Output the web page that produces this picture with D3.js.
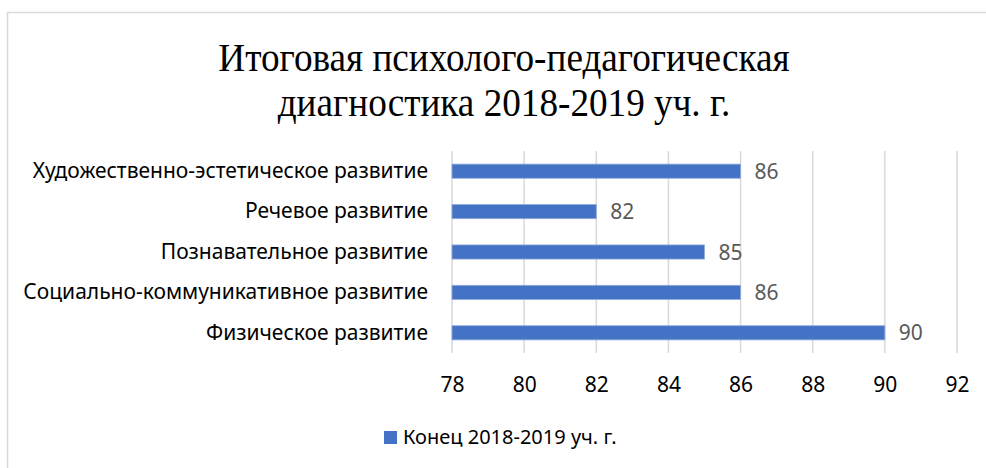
<!DOCTYPE html>
<html>
<head>
<meta charset="utf-8">
<script src="https://cdn.jsdelivr.net/npm/d3@7"></script>
<style>
  html, body { margin: 0; padding: 0; background: #fff; }
  svg { display: block; }
</style>
</head>
<body>
<div id="chart"></div>
<script>
'use strict'

// data
const categories = [
    'Художественно-эстетическое развитие',
    'Речевое развитие',
    'Познавательное развитие',
    'Социально-коммуникативное развитие',
    'Физическое развитие'
]
const values = [86, 82, 85, 86, 90]
const xTicks = [78, 80, 82, 84, 86, 88, 90, 92]
const titleLines = ['Итоговая психолого-педагогическая', 'диагностика 2018-2019 уч. г.']
const seriesName = 'Конец 2018-2019 уч. г.'

const svgWidth = 986, svgHeight = 468
const blue = '#4472C4'
const sans = '"Noto Sans", "Open Sans", sans-serif'

const svg = d3.select('#chart')
    .append('svg')
    .attr('width', svgWidth)
    .attr('height', svgHeight)

// chart frame
svg.append('rect')
    .attr('x', 7.5)
    .attr('y', 12.5)
    .attr('width', 1000)
    .attr('height', 500)
    .attr('fill', '#fff')
    .attr('stroke', '#d9d9d9')
    .attr('stroke-width', 1.5)

////////////////////////////////////
//////////// title /////////////////
////////////////////////////////////

const titleSqueeze = 0.93
const title = svg.append('g')
    .attr('transform', `translate(504,0) scale(${titleSqueeze},1)`)

title.selectAll('text')
    .data(titleLines)
    .join('text')
    .attr('x', 0)
    .attr('y', (d, i) => 71 + i * 45)
    .attr('text-anchor', 'middle')
    .style('font-family', '"Liberation Serif", "Times New Roman", serif')
    .style('font-size', '40px')
    .style('fill', '#000')
    .text(d => d)

////////////////////////////////////
//////////// scales ////////////////
////////////////////////////////////

const x = d3.scaleLinear()
    .domain([78, 92])
    .range([452, 957])

const y = d3.scaleBand()
    .domain(categories)
    .range([151, 353])
    .paddingInner(0.65)
    .paddingOuter(0.325)

// gridlines
svg.append('g')
    .selectAll('line')
    .data(xTicks)
    .join('line')
    .attr('x1', d => x(d))
    .attr('x2', d => x(d))
    .attr('y1', 151)
    .attr('y2', 353)
    .attr('stroke', '#d9d9d9')
    .attr('stroke-width', 1.5)

// x axis labels
const xAxis = svg.append('g')
    .attr('transform', 'translate(0,353)')
    .call(d3.axisBottom(x).tickValues(xTicks).tickSize(0).tickPadding(24))
xAxis.select('.domain').remove()
xAxis.selectAll('text')
    .style('font-family', sans)
    .style('font-size', '21px')
    .style('fill', '#000')

// y axis labels
const yAxis = svg.append('g')
    .attr('transform', `translate(${x(78)},0)`)
    .call(d3.axisLeft(y).tickSize(0).tickPadding(24))
yAxis.select('.domain').remove()
yAxis.selectAll('text')
    .style('font-family', sans)
    .style('font-size', '21px')
    .style('fill', '#000')

////////////////////////////////////
//////////// bars //////////////////
////////////////////////////////////

const rows = categories.map((c, i) => ({ cat: c, val: values[i] }))

svg.append('g')
    .selectAll('rect')
    .data(rows)
    .join('rect')
    .attr('x', x(78))
    .attr('y', d => y(d.cat))
    .attr('width', d => x(d.val) - x(78))
    .attr('height', y.bandwidth())
    .attr('fill', blue)
    .attr('stroke', '#8faadc')
    .attr('stroke-width', 0.8)

svg.append('g')
    .selectAll('text')
    .data(rows)
    .join('text')
    .attr('x', d => x(d.val) + 14)
    .attr('y', d => y(d.cat) + y.bandwidth() / 2)
    .attr('dy', '0.36em')
    .style('font-family', sans)
    .style('font-size', '21px')
    .style('fill', '#595959')
    .text(d => d.val)

////////////////////////////////////
//////////// legend ////////////////
////////////////////////////////////

const legend = svg.append('g')
    .attr('transform', 'translate(384,431)')

legend.append('rect')
    .attr('width', 13)
    .attr('height', 13)
    .attr('fill', blue)

legend.append('text')
    .attr('x', 19)
    .attr('y', 13)
    .style('font-family', sans)
    .style('font-size', '20px')
    .style('fill', '#000')
    .text(seriesName)
</script>
</body>
</html>
